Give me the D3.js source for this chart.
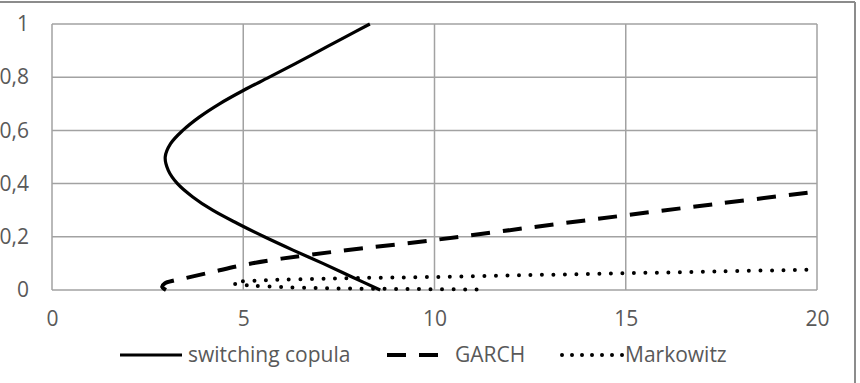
<!DOCTYPE html>
<html>
<head>
<meta charset="utf-8">
<script src="https://cdn.jsdelivr.net/npm/d3@7"></script>
<style>
  body { margin: 0; background: #fff; }
  svg { display: block; font-family: "Open Sans", sans-serif; }
</style>
</head>
<body>
<svg id="chart" width="860" height="383"></svg>
<script>
// values
const xTicks = [0, 5, 10, 15, 20];
const yTicks = [0, 0.2, 0.4, 0.6, 0.8, 1];

const copulaY = [0, 0.05, 0.1, 0.15, 0.2, 0.25, 0.3, 0.35, 0.4, 0.45, 0.5, 0.55, 0.6, 0.65, 0.7, 0.75, 0.8, 0.85, 0.9, 0.95, 1];
const copulaX = [8.58, 7.83, 7.08, 6.3, 5.55, 4.85, 4.2, 3.68, 3.28, 3.04, 2.96, 3.1, 3.42, 3.85, 4.38, 5.0, 5.68, 6.35, 7.0, 7.65, 8.31];

const garchX = [2.98, 2.88, 2.95, 3.2, 3.5, 4.2, 5, 6, 7.5, 10, 12.5, 15, 17.5, 20];
const garchY = [0, 0.012, 0.025, 0.036, 0.045, 0.068, 0.094, 0.118, 0.146, 0.188, 0.235, 0.281, 0.326, 0.37];

const markowitzX = [11.1, 10, 9, 8, 7, 6, 5.2, 4.75, 4.8, 5.3, 6, 7, 8, 10, 12.5, 15, 17.5, 20];
const markowitzY = [0.002, 0.003, 0.004, 0.005, 0.007, 0.011, 0.017, 0.025, 0.03, 0.035, 0.039, 0.042, 0.045, 0.049, 0.056, 0.063, 0.07, 0.077];

const seriesNames = ["switching copula", "GARCH", "Markowitz"];

const width = 860;
const height = 383;
const margin = {top: 24, right: 43, bottom: 93, left: 52};

const svg = d3.select("#chart");

// outer chart frame (only top and right edges show in the picture)
svg.append("line").attr("x1", 0).attr("x2", 855).attr("y1", 2).attr("y2", 2)
    .attr("stroke", "#8c8c8c").attr("stroke-width", 2);
svg.append("line").attr("x1", 855).attr("x2", 855).attr("y1", 2).attr("y2", height)
    .attr("stroke", "#8c8c8c").attr("stroke-width", 2);

const x = d3.scaleLinear().domain([0, 20]).range([margin.left, width - margin.right]);
const y = d3.scaleLinear().domain([0, 1]).range([height - margin.bottom, margin.top]);

const grid = svg.append("g").attr("stroke", "#a2a2a2").attr("stroke-width", 1.5);
grid.selectAll(".gx").data(xTicks).enter().append("line")
    .attr("x1", d => x(d)).attr("x2", d => x(d))
    .attr("y1", y(0)).attr("y2", y(1));
grid.selectAll(".gy").data(yTicks).enter().append("line")
    .attr("x1", x(0)).attr("x2", x(20))
    .attr("y1", d => y(d)).attr("y2", d => y(d));

const fmt = d => d3.format("~g")(d).replace(".", ",");

const xAxis = d3.axisBottom(x).tickValues(xTicks).tickSize(0).tickPadding(21).tickFormat(fmt);
const yAxis = d3.axisLeft(y).tickValues(yTicks).tickSize(0).tickPadding(23).tickFormat(fmt);

svg.append("g").attr("transform", `translate(0,${y(0)})`).call(xAxis)
    .call(g => g.select(".domain").remove());
svg.append("g").attr("transform", `translate(${x(0)},0)`).call(yAxis)
    .call(g => g.select(".domain").remove());

svg.selectAll(".tick text")
    .attr("fill", "#595959")
    .style("font-size", "21px")
    .style("font-family", "'Open Sans', sans-serif");

const line = d3.line()
    .x(d => x(d[0]))
    .y(d => y(d[1]))
    .curve(d3.curveCatmullRom.alpha(0.5));

const copula = d3.zip(copulaX, copulaY);
const garch = d3.zip(garchX, garchY);
const markowitz = d3.zip(markowitzX, markowitzY);

svg.append("path").datum(copula).attr("d", line)
    .attr("fill", "none").attr("stroke", "#000").attr("stroke-width", 3.2);

svg.append("path").datum(garch).attr("d", line)
    .attr("fill", "none").attr("stroke", "#000").attr("stroke-width", 4)
    .attr("stroke-dasharray", "19 13");

svg.append("path").datum(markowitz).attr("d", line)
    .attr("fill", "none").attr("stroke", "#000").attr("stroke-width", 4)
    .attr("stroke-linecap", "round")
    .attr("stroke-dasharray", "0 11.5");

// legend
const legendY = 355;
const legendItems = [
    {name: seriesNames[0], x1: 120, x2: 182, tx: 188, dash: null, cap: "butt", w: 3.2},
    {name: seriesNames[1], x1: 387, x2: 440, tx: 455, dash: "19 13", cap: "butt", w: 4},
    {name: seriesNames[2], x1: 562, x2: 623, tx: 625, dash: "0 10", cap: "round", w: 4}
];
const legend = svg.append("g");
legendItems.forEach(d => {
    legend.append("line")
        .attr("x1", d.x1).attr("x2", d.x2).attr("y1", legendY).attr("y2", legendY)
        .attr("stroke", "#000").attr("stroke-width", d.w)
        .attr("stroke-linecap", d.cap)
        .attr("stroke-dasharray", d.dash);
    legend.append("text")
        .attr("x", d.tx).attr("y", legendY)
        .attr("dy", "0.35em")
        .attr("fill", "#595959")
        .style("font-size", "21px")
        .text(d.name);
});
</script>
</body>
</html>
